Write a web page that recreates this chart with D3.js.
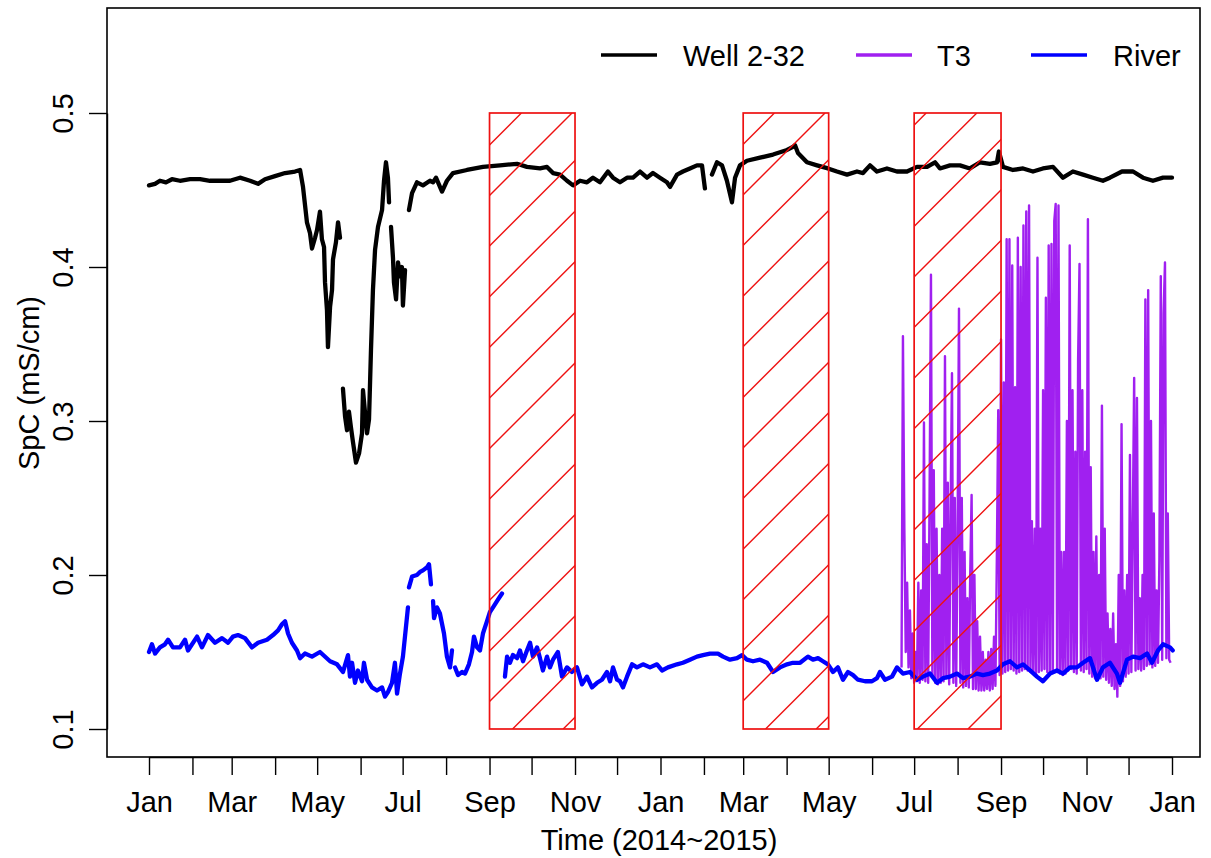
<!DOCTYPE html>
<html><head><meta charset="utf-8">
<script src="https://cdn.jsdelivr.net/npm/d3@7"></script>
<style>
body{margin:0;background:#fff}
text{font-family:"Liberation Sans",Arial,Helvetica,sans-serif;fill:#000}
</style>
</head><body>
<svg id="chart" width="1211" height="858"></svg>
<script>
// ---------------- DATA (days since 2014-01-01, SpC in mS/cm) ----------------
const seriesNames = ["Well 2-32", "T3", "River"];

const wellDay = [0,4.3,7.8,12.1,16.4,22.1,29.3,36.4,43.5,50.7,57.8,64.9,72.1,77.8,82.8,89.9,97.1,104.2,107.8,
  109.9,112.7,114.9,116.3,118.5,119.9,122.0,123.4,124.9,125.6,127.0,127.7,129.2,130.6,131.3,133.4,134.9,136.3,137.3,
  138.4,139.9,141.3,142.7,144.1,145.6,147.7,149.9,152.0,152.7,154.8,155.6,157.0,158.4,159.8,161.3,163.4,166.3,167.7,169.1,170.5,171.3,171.9,
  172.7,174.1,174.8,176.3,177.7,179.1,180.5,181.2,182.7,184.0,
  185.5,187.7,191.2,195.5,200.5,202.7,204.8,209.1,212.6,216.9,226.9,238.3,250.5,262.6,269.7,279.0,284.0,288.3,293.3,298.3,302.6,307.6,312.5,316.8,321.8,327.5,331.1,336.1,341.1,345.4,350.4,355.4,359.6,364.6,369.6,371.8,376.8,381.0,386.0,391.0,394.6,396.7,399.0,
  401.7,405.3,408.9,412.4,416.0,418.2,421.7,426.7,436.0,445.3,455.3,459.5,461.0,463.1,469.5,476.7,484.5,490.9,498.1,505.2,509.5,514.5,519.5,526.6,533.7,540.9,548.0,555.2,560.9,564.4,571.6,578.7,585.8,593.0,600.1,605.1,606.5,609.4,616.5,623.7,630.8,637.9,645.1,652.2,659.3,666.5,673.6,680.7,685.7,694.3,702.2,709.3,716.4,723.6,730.0];
const wellSpc = [.453,.454,.456,.455,.457,.456,.457,.457,.456,.456,.456,.458,.456,.454,.457,.459,.461,.462,.463,
  .452,.429,.422,.412,.419,.424,.436,.418,.413,.390,.372,.348,.374,.385,.405,.416,.429,.419,null,
  .321,.303,.294,.306,.296,.286,.273,.279,.292,.320,.299,.292,.301,.346,.385,.411,.426,.437,.456,.468,.458,.442,null,
  .426,.406,.390,.379,.403,.394,.400,.375,.398,null,
  .437,.448,.455,.453,.456,.455,.458,.449,.456,.461,.463,.465,.466,.467,.465,.464,.465,.461,.460,.456,.453,.456,.455,.458,.455,.462,.458,.455,.458,.458,.462,.458,.461,.458,.455,.452,.460,.462,.464,.466,.466,.451,null,
  .460,.468,.466,.456,.442,.458,.466,.469,.471,.473,.476,.478,.479,.474,.468,.466,.464,.462,.460,.462,.461,.466,.462,.464,.462,.462,.465,.465,.468,.464,.466,.466,.464,.468,.467,.468,.475,.465,.463,.464,.462,.464,.465,.458,.462,.460,.458,.456,.458,.462,.462,.458,.456,.458,.458];

const riverDay = [0,2.1,4.3,7.8,11.4,13.6,17.1,22.1,25.7,27.8,34.3,37.8,42.1,47.1,52.1,56.4,59.9,63.5,68.5,73.5,77.8,84.2,88.5,92.1,94.9,97.1,99.2,102.0,105.6,107.8,111.3,116.3,122.0,129.2,134.2,138.4,142.0,143.4,144.9,147.0,149.1,152.0,153.4,155.6,159.1,162.7,166.3,168.4,170.5,173.4,175.5,177.0,179.1,181.2,184.8,185.1,
  185.5,187.7,191.2,193.4,195.5,198.4,199.8,201.2,202.0,
  202.7,203.4,205.5,207.6,210.5,212.6,214.8,216.2,217.3,
  218.4,220.5,223.4,225.5,228.3,230.5,231.9,234.1,236.2,238.3,241.2,243.3,245.5,249.0,251.9,253.0,
  254.0,255.5,257.6,259.7,262.6,264.7,266.9,269.7,271.9,274.0,276.9,279.0,281.1,284.0,286.1,288.3,291.8,294.7,298.3,301.8,305.4,309.0,312.5,316.1,319.7,323.2,326.8,329.0,331.1,334.0,336.1,338.2,341.1,344.7,348.2,352.5,357.5,362.5,366.1,370.3,376.8,381.0,386.0,391.0,395.3,400.3,406.0,409.6,414.6,419.6,423.2,426.7,431.0,436.0,441.0,445.3,450.3,455.3,459.5,464.6,470.2,473.8,477.4,480.9,484.5,488.1,491.6,495.2,498.8,502.4,505.9,510.9,515.9,519.5,521.6,525.2,530.2,533.8,538.0,543.0,548.0,552.3,557.3,562.3,566.6,571.6,576.6,580.8,585.8,590.8,595.1,600.1,605.1,609.4,614.4,619.4,623.7,628.7,633.6,637.9,643.0,647.9,652.2,657.2,662.2,666.5,671.5,676.5,680.7,685.7,690.7,692.9,697.9,702.2,707.2,712.2,715.7,720.0,723.6,728.6,730.5];
const riverSpc = [.150,.155,.149,.153,.155,.158,.153,.153,.158,.151,.160,.153,.161,.156,.159,.156,.160,.161,.159,.153,.156,.158,.161,.164,.168,.170,.162,.156,.151,.146,.149,.147,.150,.144,.142,.137,.148,.134,.143,.130,.138,.131,.143,.132,.127,.125,.127,.121,.124,.130,.143,.123,.136,.147,.179,null,
  .192,.199,.200,.202,.203,.205,.207,.194,null,
  .183,.172,.179,.175,.162,.147,.140,.151,null,
  .140,.135,.137,.136,.142,.150,.160,.153,.151,.162,.170,.176,.179,.184,.188,null,
  .134,.147,.143,.148,.146,.151,.144,.151,.156,.147,.153,.146,.138,.147,.140,.145,.150,.134,.140,.137,.140,.129,.134,.127,.130,.132,.137,.131,.140,.132,.131,.127,.134,.142,.140,.142,.140,.142,.138,.140,.142,.143,.145,.147,.148,.149,.149,.147,.145,.146,.148,.145,.144,.145,.143,.137,.140,.142,.143,.143,.147,.145,.146,.144,.142,.137,.140,.132,.137,.135,.132,.131,.131,.133,.137,.132,.134,.140,.136,.137,.132,.134,.136,.130,.133,.134,.136,.133,.134,.136,.135,.136,.138,.142,.144,.140,.142,.138,.134,.131,.136,.138,.136,.140,.140,.143,.146,.132,.140,.143,.136,.130,.145,.147,.146,.149,.143,.151,.155,.153,.151];

// T3: daily readings starting 2015-06-22
const t3Start = "2015-06-22";
const t3Spc = [.140,.355,.231,.150,.195,.140,.177,.133,.162,.130,.150,.131,.195,.130,.190,.132,.299,.131,.220,.130,
  .250,.395,.135,.268,.130,.230,.129,.200,.130,.230,.131,.342,.133,.260,.129,.240,.331,.130,.250,.128,
  .230,.373,.130,.250,.127,.215,.128,.185,.127,.200,.252,.126,.200,.126,.170,.125,.160,.125,.150,.125,
  .145,.126,.150,.125,.152,.126,.160,.128,.210,.307,.135,.353,.136,.325,.137,.418,.138,.418,.139,.401,
  .138,.322,.136,.419,.137,.400,.138,.427,.139,.436,.138,.440,.137,.235,.136,.230,.135,.406,.137,.230,
  .138,.320,.139,.380,.137,.414,.136,.415,.138,.430,.441,.137,.440,.136,.215,.135,.215,.136,.300,.138,
  .414,.139,.320,.137,.280,.136,.340,.402,.138,.320,.137,.280,.139,.431,.136,.270,.134,.215,.133,.225,
  .132,.200,.133,.310,.134,.230,.132,.175,.130,.165,.128,.175,.126,.155,.121,.200,.128,.298,.131,.190,
  .134,.200,.136,.278,.137,.230,.328,.138,.315,.139,.185,.138,.200,.139,.379,.141,.385,.142,.300,.140,
  .240,.141,.190,.143,.210,.394,.145,.370,.403,.146,.240,.145,.143];

// shaded (hatched) periods
const shadeStart = ["2014-09-01", "2015-03-01", "2015-07-01"];
const shadeEnd   = ["2014-11-01", "2015-05-01", "2015-09-01"];
const shadeLow = 0.1, shadeHigh = 0.5;

const yTicks = [0.1, 0.2, 0.3, 0.4, 0.5];
const xTickLabels = ["Jan","Mar","May","Jul","Sep","Nov","Jan","Mar","May","Jul","Sep","Nov","Jan"];
const xTitle = "Time (2014~2015)";
const yTitle = "SpC (mS/cm)";

// ---------------- DRAWING ----------------
const svg = d3.select("#chart");
const FS = 29;
const plot = {left:107, top:8, right:1200, bottom:757};
const origin = Date.UTC(2014,0,1);
const dayToDate = d => new Date(origin + d*864e5);
const parse = s => new Date(s + "T00:00:00Z");

const x = d3.scaleUtc().domain([dayToDate(0), dayToDate(730)]).range([149, 1172]);
const y = d3.scaleLinear().domain([0.1, 0.5]).range([729, 113]);

const colors = {"Well 2-32":"#000000", "T3":"#a020f0", "River":"#0000ff"};

svg.append("clipPath").attr("id","plotclip").append("rect")
  .attr("x",plot.left).attr("y",plot.top).attr("width",plot.right-plot.left).attr("height",plot.bottom-plot.top);

const g = svg.append("g").attr("clip-path","url(#plotclip)");

const line = d3.line().defined(d => d[1] != null).x(d => x(d[0])).y(d => y(d[1]));

const wellData = wellDay.map((d,i) => [dayToDate(d), wellSpc[i]]);
const riverData = riverDay.map((d,i) => [dayToDate(d), riverSpc[i]]);
const t3Base = parse(t3Start).getTime();
const t3Data = t3Spc.map((v,i) => [new Date(t3Base + i*864e5), v]);

g.append("path").datum(wellData).attr("d", line).attr("fill","none")
  .attr("stroke", colors["Well 2-32"]).attr("stroke-width",4.3).attr("stroke-linejoin","round").attr("stroke-linecap","round");
g.append("path").datum(t3Data).attr("d", line).attr("fill","none")
  .attr("stroke", colors["T3"]).attr("stroke-width",2.4).attr("stroke-linejoin","round");
g.append("path").datum(riverData).attr("d", line).attr("fill","none")
  .attr("stroke", colors["River"]).attr("stroke-width",4.3).attr("stroke-linejoin","round").attr("stroke-linecap","round");

// hatched rectangles
const hatchSpacing = 50.6, hatchPhase = 27.2; // lines x+y = phase + k*spacing (px)
shadeStart.forEach((s,i) => {
  const x0 = x(parse(s)), x1 = x(parse(shadeEnd[i]));
  const y0 = y(shadeHigh), y1 = y(shadeLow);
  const id = "hclip"+i;
  svg.append("clipPath").attr("id",id).append("rect")
    .attr("x",x0).attr("y",y0).attr("width",x1-x0).attr("height",y1-y0);
  const hg = svg.append("g").attr("clip-path",`url(#${id})`);
  const cMin = x0 + y0, cMax = x1 + y1;
  let k = Math.ceil((cMin - hatchPhase)/hatchSpacing);
  for (; hatchPhase + k*hatchSpacing <= cMax; k++) {
    const c = hatchPhase + k*hatchSpacing;
    hg.append("line").attr("x1", c - y1).attr("y1", y1).attr("x2", c - y0).attr("y2", y0)
      .attr("stroke","#ee1111").attr("stroke-width",1.4);
  }
  svg.append("rect").attr("x",x0).attr("y",y0).attr("width",x1-x0).attr("height",y1-y0)
    .attr("fill","none").attr("stroke","#ee1111").attr("stroke-width",1.7);
});

// box
svg.append("rect").attr("x",plot.left).attr("y",plot.top)
  .attr("width",plot.right-plot.left).attr("height",plot.bottom-plot.top)
  .attr("fill","none").attr("stroke","#000").attr("stroke-width",1.6);

// x axis
const months = d3.utcMonth.range(dayToDate(0), d3.utcDay.offset(dayToDate(730),1));
const xAxis = d3.axisBottom(x).tickValues(months).tickSize(18).tickSizeOuter(0)
  .tickFormat((d,i) => i % 2 === 0 ? xTickLabels[i/2] : "");
const xg = svg.append("g").attr("transform",`translate(0,${plot.bottom})`).call(xAxis);
xg.select(".domain").attr("stroke","#000").attr("stroke-width",1.4);
xg.selectAll(".tick line").attr("stroke","#000").attr("stroke-width",1.4);
xg.selectAll(".tick text").attr("y",55).attr("dy",0).style("font-size",FS+"px")
  .style("font-family",'"Liberation Sans",Arial,sans-serif');

// y axis
const yAxis = d3.axisLeft(y).tickValues(yTicks).tickSize(18).tickSizeOuter(0).tickFormat(d3.format(".1f"));
const yg = svg.append("g").attr("transform",`translate(${plot.left},0)`).call(yAxis);
yg.select(".domain").attr("stroke","#000").attr("stroke-width",1.4);
yg.selectAll(".tick line").attr("stroke","#000").attr("stroke-width",1.4);
yg.selectAll(".tick text").attr("x",0).attr("dy",0)
  .attr("transform","translate(-34,0) rotate(-90)")
  .attr("text-anchor","middle").style("font-size",FS+"px")
  .style("font-family",'"Liberation Sans",Arial,sans-serif');

// titles
svg.append("text").attr("x",659).attr("y",850).attr("text-anchor","middle")
  .style("font-size",FS+"px").text(xTitle);
svg.append("text").attr("transform","translate(39,383) rotate(-90)").attr("text-anchor","middle")
  .style("font-size",FS+"px").text(yTitle);

// legend
const legLineX = [601, 856, 1031], legTextX = [683, 937, 1113];
seriesNames.forEach((n,i) => {
  svg.append("line").attr("x1",legLineX[i]).attr("x2",legLineX[i]+56).attr("y1",55).attr("y2",55)
    .attr("stroke",colors[n]).attr("stroke-width",3.4);
  svg.append("text").attr("x",legTextX[i]).attr("y",65.5).style("font-size",FS+"px").text(n);
});
</script>
</body></html>
